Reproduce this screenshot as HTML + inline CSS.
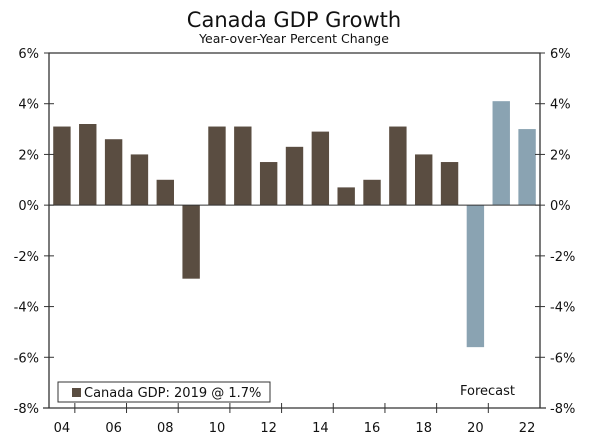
<!DOCTYPE html>
<html><head><meta charset="utf-8"><style>
body{margin:0;background:#fff;width:600px;height:441px;overflow:hidden}
svg text{font-family:"DejaVu Sans","Liberation Sans",sans-serif;fill:#111}
</style></head><body>
<svg id="chart" width="600" height="441" xmlns="http://www.w3.org/2000/svg">
<text x="294" y="27" text-anchor="middle" font-size="21">Canada GDP Growth</text>
<text x="294" y="43" text-anchor="middle" font-size="12.5">Year-over-Year Percent Change</text>
<g id="plot"></g>
<g>
<rect x="58" y="382" width="212" height="20" fill="#fff" stroke="#333" stroke-width="1"/>
<rect x="72" y="388" width="9" height="9" fill="#5a4d41"/>
<text x="84" y="397" font-size="13">Canada GDP: 2019 @ 1.7%</text>
</g>
<text x="460" y="395" font-size="13">Forecast</text>
</svg>
<script>
const years=['04','05','06','07','08','09','10','11','12','13','14','15','16','17','18','19','20','21','22'];
const growth=[3.1,3.2,2.6,2.0,1.0,-2.9,3.1,3.1,1.7,2.3,2.9,0.7,1.0,3.1,2.0,1.7,-5.6,4.1,3.0];
const forecast=[0,0,0,0,0,0,0,0,0,0,0,0,0,0,0,0,1,1,1];
const yTicks=[6,4,2,0,-2,-4,-6,-8];
const xLabels=['04','06','08','10','12','14','16','18','20','22'];
const L=49,R=540,T=53,B=408,ymin=-8,ymax=6;
const y=v=>T+(ymax-v)/(ymax-ymin)*(B-T);
const bw=(R-L)/years.length;
const x=i=>L+bw*(i+0.5);
const ns='http://www.w3.org/2000/svg';
const g=document.getElementById('plot');
function mk(t,a){const e=document.createElementNS(ns,t);for(const k in a)e.setAttribute(k,a[k]);g.appendChild(e);return e;}
growth.forEach((v,i)=>{
 const r=mk('rect',{x:x(i)-8.7,y:Math.min(y(v),y(0)),width:17.4,height:Math.abs(y(v)-y(0)),fill:forecast[i]?'#8aa3b2':'#5a4d41'});
 
 
});
const ax=mk('path',{d:`M${L},${B}V${T}H${R}V${B}`,fill:'none',stroke:'#333','stroke-width':1.3});


const xa=mk('line',{x1:L-6,x2:R+6,y1:B,y2:B,stroke:'#333','stroke-width':1.3});


const z=mk('line',{x1:L,x2:R,y1:y(0),y2:y(0),stroke:'#333','stroke-width':1});


yTicks.forEach(v=>{
 mk('line',{x1:L-5,x2:L+5,y1:y(v),y2:y(v),stroke:'#333'});
 mk('line',{x1:R-5,x2:R+5,y1:y(v),y2:y(v),stroke:'#333'});
 const a=mk('text',{x:39,y:y(v)+5,'text-anchor':'end','font-size':13});a.textContent=v+'%';
 
 
 const b=mk('text',{x:550,y:y(v)+5,'font-size':13});b.textContent=v+'%';
 
 
});
for(let i=1;i<years.length;i+=2){mk('line',{x1:L+bw*i,x2:L+bw*i,y1:B-5,y2:B+5,stroke:'#333'});}
xLabels.forEach(l=>{
 const i=years.indexOf(l);
 const t=mk('text',{x:x(i),y:432,'text-anchor':'middle','font-size':13});t.textContent=l;
 
 
});
</script>
</body></html>
